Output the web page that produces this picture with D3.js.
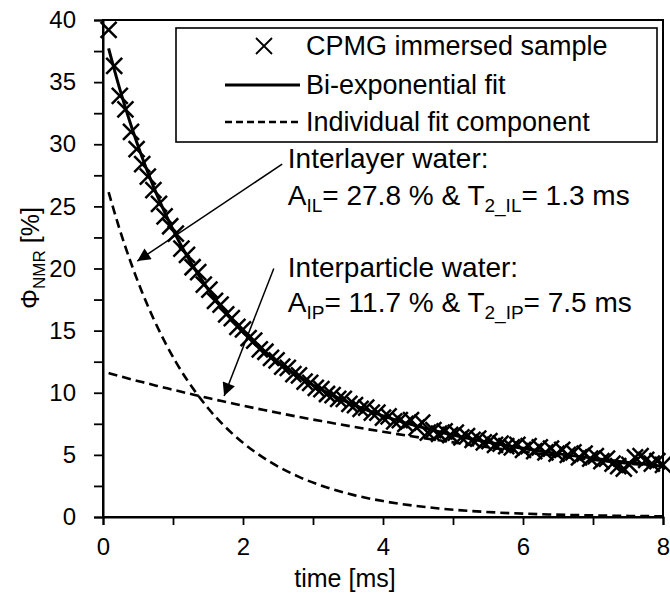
<!DOCTYPE html>
<html lang="en">
<head>
<meta charset="UTF-8">
<script src="https://d3js.org/d3.v7.min.js"></script>
<style>
  html, body { margin: 0; background: #fff; overflow: hidden; }
  text { font-family: "Liberation Sans", Arial, sans-serif; fill: #000; }
</style>
</head>
<body>
<svg id="svg"></svg>
<script>
// echo times [ms] and measured signal [%]
const echoTimes = [0.08,0.16,0.24,0.32,0.40,0.48,0.56,0.64,0.72,0.80,0.88,0.96,1.04,1.12,1.20,1.28,1.36,1.44,1.52,1.60,
  1.68,1.76,1.84,1.92,2.00,2.08,2.16,2.24,2.32,2.40,2.48,2.56,2.64,2.72,2.80,2.88,2.96,3.04,3.12,3.20,
  3.28,3.36,3.44,3.52,3.60,3.68,3.76,3.84,3.92,4.00,4.08,4.16,4.24,4.32,4.40,4.48,4.56,4.64,4.72,4.80,
  4.88,4.96,5.04,5.12,5.20,5.28,5.36,5.44,5.52,5.60,5.68,5.76,5.84,5.92,6.00,6.08,6.16,6.24,6.32,6.40,
  6.48,6.56,6.64,6.72,6.80,6.88,6.96,7.04,7.12,7.20,7.28,7.36,7.44,7.52,7.60,7.68,7.76,7.84,7.92,8.00];
const cpmg = [39.2,36.3,33.9,32.8,31.0,29.6,28.4,27.4,26.3,25.2,24.2,23.4,22.8,21.6,21.1,20.1,19.7,18.7,18.3,17.4,
  17.1,16.3,16.0,15.3,15.1,14.4,14.2,13.5,13.3,12.8,12.6,12.1,12.0,11.5,11.4,10.9,10.8,10.4,10.3,9.9,
  9.8,9.5,9.5,9.1,9.0,8.7,8.8,8.4,8.4,8.0,8.1,7.7,7.8,7.5,7.8,7.2,7.6,6.8,7.0,6.7,
  6.9,6.6,6.8,6.4,6.5,6.2,6.3,6.0,6.1,5.8,5.9,5.7,5.6,5.8,5.4,5.7,5.3,5.6,5.2,5.5,
  5.1,5.4,5.0,5.2,4.8,5.1,4.7,4.9,4.5,4.7,4.3,4.1,3.9,4.2,4.8,4.9,4.6,4.3,4.5,4.2];

// fit curves sampled at these times
const fitTimes = [0.08,0.24,0.40,0.56,0.72,0.88,1.04,1.20,1.36,1.52,1.68,1.84,2.00,2.40,2.80,3.20,3.60,4.00,4.80,5.60,6.40,7.20,8.00];
const fitTotal = [37.72,34.44,31.53,28.93,26.61,24.53,22.68,21.01,19.53,18.18,16.98,15.91,14.93,12.89,11.28,10.01,8.98,8.14,6.86,5.91,5.18,4.59,4.09];
const fitIL = [26.14,23.11,20.44,18.07,15.98,14.13,12.49,11.04,9.77,8.63,7.63,6.75,5.97,4.39,3.23,2.37,1.74,1.28,0.69,0.37,0.20,0.11,0.06];
const fitIP = [11.58,11.33,11.09,10.86,10.63,10.40,10.19,9.97,9.76,9.55,9.35,9.16,8.96,8.50,8.05,7.64,7.24,6.86,6.17,5.54,4.98,4.48,4.03];

const xTicks = [0,1,2,3,4,5,6,7,8];
const yTicks = [0,2.5,5,7.5,10,12.5,15,17.5,20,22.5,25,27.5,30,32.5,35,37.5,40];

const width = 670, height = 596;
const svg = d3.select('#svg').attr('width', width).attr('height', height);

const x = d3.scaleLinear().domain([0, 8]).range([103, 663]);
const y = d3.scaleLinear().domain([0, 40]).range([517, 20]);

// frame
svg.append('rect')
  .attr('x', x(0)).attr('y', y(40))
  .attr('width', x(8) - x(0)).attr('height', y(0) - y(40))
  .attr('fill', 'none').attr('stroke', '#000').attr('stroke-width', 2);

// axes
const xAxis = svg.append('g').attr('transform', `translate(0,${y(0)})`)
  .call(d3.axisBottom(x).tickValues(xTicks).tickSize(8).tickPadding(13)
    .tickFormat(d => d % 2 === 0 ? d : ''));
const yAxis = svg.append('g').attr('transform', `translate(${x(0)},0)`)
  .call(d3.axisLeft(y).tickValues(yTicks).tickSize(9).tickPadding(18)
    .tickFormat(d => d % 5 === 0 ? d : ''));
[xAxis, yAxis].forEach(a => {
  a.select('.domain').attr('stroke-width', 2);
  a.selectAll('.tick line').attr('stroke-width', 1.8);
  a.selectAll('.tick text').attr('font-size', 24)
    .attr('font-family', '"Liberation Sans", Arial, sans-serif');
});

// axis titles
svg.append('text')
  .attr('x', 345).attr('y', 587)
  .attr('text-anchor', 'middle').attr('font-size', 25)
  .text('time [ms]');

const yl = svg.append('text')
  .attr('transform', `translate(39,258) rotate(-90)`)
  .attr('text-anchor', 'middle').attr('font-size', 25);
yl.append('tspan').text('Φ');
yl.append('tspan').attr('font-size', 17).attr('dy', 6).text('NMR');
yl.append('tspan').attr('dy', -6).text(' [%]');

// curves
const line = (ts, vs) => d3.line().x((d, i) => x(ts[i])).y(d => y(d)).curve(d3.curveMonotoneX)(vs);

svg.append('path').attr('d', line(fitTimes, fitIL))
  .attr('fill', 'none').attr('stroke', '#000').attr('stroke-width', 2.6).attr('stroke-dasharray', '9,5');
svg.append('path').attr('d', line(fitTimes, fitIP))
  .attr('fill', 'none').attr('stroke', '#000').attr('stroke-width', 2.6).attr('stroke-dasharray', '9,5');

// markers
const cross = 'M-8,-8L8,8M-8,8L8,-8';
svg.append('g').selectAll('path').data(cpmg).join('path')
  .attr('transform', (d, i) => `translate(${x(echoTimes[i])},${y(d)})`)
  .attr('d', cross).attr('stroke', '#000').attr('stroke-width', 2.5).attr('fill', 'none');

svg.append('path').attr('d', line(fitTimes, fitTotal))
  .attr('fill', 'none').attr('stroke', '#000').attr('stroke-width', 3);

// legend
const lg = svg.append('g');
lg.append('rect').attr('x', 176).attr('y', 28).attr('width', 481).attr('height', 114)
  .attr('fill', '#fff').attr('stroke', '#000').attr('stroke-width', 1.6);
const legendItems = [
  { label: 'CPMG immersed sample', kind: 'marker', yy: 46 },
  { label: 'Bi-exponential fit', kind: 'solid', yy: 85 },
  { label: 'Individual fit component', kind: 'dash', yy: 122 }
];
legendItems.forEach(it => {
  if (it.kind === 'marker') {
    lg.append('path').attr('transform', `translate(264,${it.yy})`).attr('d', 'M-8,-8L8,8M-8,8L8,-8')
      .attr('stroke', '#000').attr('stroke-width', 1.8);
  } else {
    lg.append('line').attr('x1', 225).attr('x2', 300).attr('y1', it.yy).attr('y2', it.yy)
      .attr('stroke', '#000').attr('stroke-width', it.kind === 'solid' ? 3 : 2.6)
      .attr('stroke-dasharray', it.kind === 'dash' ? '7,4' : null);
  }
  lg.append('text').attr('x', 306).attr('y', it.yy + 9).attr('font-size', 27).text(it.label);
});

// annotations
const ann = svg.append('g');
function subText(xp, yp, parts) {
  const t = ann.append('text').attr('x', xp).attr('y', yp).attr('font-size', 28);
  parts.forEach(p => {
    if (p.sub) t.append('tspan').attr('font-size', 19).attr('dy', 7).text(p.sub);
    else t.append('tspan').attr('dy', p.after ? -7 : 0).text(p.t);
  });
}
subText(x(2.64), y(28.1), [{ t: 'Interlayer water:' }]);
subText(x(2.64), y(25.1), [{ t: 'A' }, { sub: 'IL' }, { t: '= 27.8 % & T', after: true }, { sub: '2_IL' }, { t: '= 1.3 ms', after: true }]);
subText(x(2.64), y(19.3), [{ t: 'Interparticle water:' }]);
subText(x(2.64), y(16.5), [{ t: 'A' }, { sub: 'IP' }, { t: '= 11.7 % & T', after: true }, { sub: '2_IP' }, { t: '= 7.5 ms', after: true }]);

svg.append('defs').append('marker').attr('id', 'ah')
  .attr('viewBox', '0 0 10 10').attr('refX', 10).attr('refY', 5)
  .attr('markerWidth', 16).attr('markerHeight', 13).attr('markerUnits', 'userSpaceOnUse')
  .attr('orient', 'auto')
  .append('path').attr('d', 'M0,0L10,5L0,10Z').attr('fill', '#000');

const arrows = [
  { from: [2.56, 28.4], to: [0.49, 20.6] },
  { from: [2.44, 20.0], to: [1.73, 9.74] }
];
arrows.forEach(a => {
  svg.append('line')
    .attr('x1', x(a.from[0])).attr('y1', y(a.from[1]))
    .attr('x2', x(a.to[0])).attr('y2', y(a.to[1]))
    .attr('stroke', '#000').attr('stroke-width', 1.5).attr('marker-end', 'url(#ah)');
});
</script>
</body>
</html>
